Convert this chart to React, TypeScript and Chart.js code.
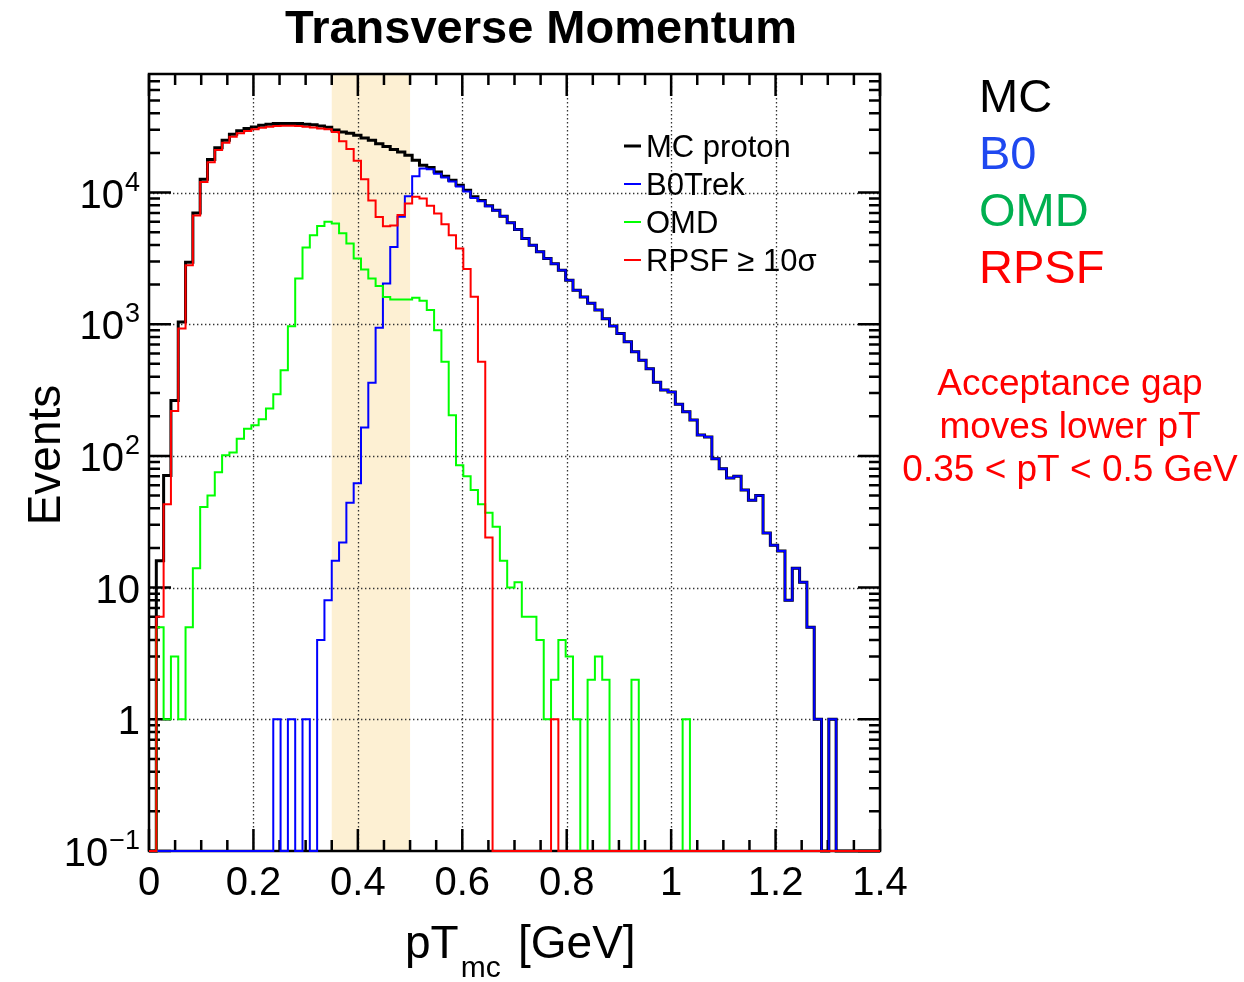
import React, { useEffect, useRef } from 'react';
import { Chart, registerables } from 'chart.js';

Chart.register(...registerables);

// Histogram binning (100 bins over 0 - 1.4 GeV)
const X_MIN = 0;
const X_MAX = 1.4;
const N_BINS = 100;
const Y_MIN = 0.1;
const Y_MAX = Math.pow(10, 4.9);

// Bin contents
const mcProton = [
  0, 16, 71, 263, 1040, 2950, 7000, 12600, 17800, 21900,
  24900, 27700, 29400, 30600, 31500, 32400, 33000, 33400, 33500, 33500,
  33400, 33000, 32700, 32000, 31300, 29800, 28800, 28200, 27200, 26000,
  24900, 23500, 22400, 21200, 20300, 19200, 17600, 16100, 15500, 14300,
  13300, 12400, 11350, 10400, 9270, 8710, 7940, 7350, 6600, 5900,
  5250, 4470, 3980, 3550, 3160, 2880, 2570, 2160, 1810, 1610,
  1440, 1280, 1100, 970, 850, 735, 617, 533, 460, 363,
  316, 306, 247, 216, 187, 144, 139, 95, 80, 68,
  70, 55, 46, 50, 26, 21, 19, 8, 14, 11,
  5, 1, 0, 1, 0, 0, 0, 0, 0, 0,
];

const b0Trek = [
  0, 0, 0, 0, 0, 0, 0, 0, 0, 0,
  0, 0, 0, 0, 0, 0, 0, 1, 0, 1,
  0, 1, 0, 4, 8, 16, 22, 44, 62, 164,
  360, 940, 2040, 3860, 6540, 9370, 13300, 15200, 15000, 13900,
  13000, 12100, 11100, 10200, 9100, 8600, 7850, 7300, 6600, 5900,
  5250, 4470, 3980, 3550, 3160, 2880, 2570, 2160, 1810, 1610,
  1440, 1280, 1100, 970, 850, 735, 617, 533, 460, 363,
  316, 306, 247, 216, 187, 144, 139, 95, 80, 68,
  70, 55, 46, 50, 26, 21, 19, 8, 14, 11,
  5, 1, 0, 1, 0, 0, 0, 0, 0, 0,
];

const omd = [
  0, 5, 1, 3, 1, 5, 14, 41, 50, 75,
  101, 106, 135, 161, 171, 190, 229, 294, 447, 966,
  2220, 3820, 4740, 5560, 5990, 5820, 4900, 4100, 3160, 2600,
  2220, 1950, 1610, 1540, 1540, 1540, 1590, 1510, 1280, 900,
  518, 204, 85, 70, 55, 43, 37, 29, 16, 10,
  11, 6, 6, 4, 1, 2, 4, 3, 1, 0,
  2, 3, 2, 0, 0, 0, 2, 0, 0, 0,
  0, 0, 0, 1, 0, 0, 0, 0, 0, 0,
  0, 0, 0, 0, 0, 0, 0, 0, 0, 0,
  0, 0, 0, 0, 0, 0, 0, 0, 0, 0,
];

const rpsf = [
  0, 6, 43, 219, 927, 2800, 6700, 12000, 17000, 21000,
  23900, 26500, 28200, 29300, 30200, 31000, 31600, 32000, 32100, 32100,
  32000, 31600, 31200, 30600, 30200, 28800, 24500, 21400, 17400, 12600,
  8700, 6530, 5550, 5620, 6760, 8260, 9270, 9000, 7940, 6920,
  5750, 4740, 3760, 2630, 1620, 518, 24, 0, 0, 0,
  0, 0, 0, 0, 0, 1, 0, 0, 0, 0,
  0, 0, 0, 0, 0, 0, 0, 0, 0, 0,
  0, 0, 0, 0, 0, 0, 0, 0, 0, 0,
  0, 0, 0, 0, 0, 0, 0, 0, 0, 0,
  0, 0, 0, 0, 0, 0, 0, 0, 0, 0,
];

// Axis ticks and labels
const xTickValues = [0, 0.2, 0.4, 0.6, 0.8, 1, 1.2, 1.4];
const xTickLabels = ['0', '0.2', '0.4', '0.6', '0.8', '1', '1.2', '1.4'];
const yDecades = [-1, 0, 1, 2, 3, 4];

// Shaded acceptance-gap region
const gapRange = [0.35, 0.5];

const seriesNames = ['MC proton', 'B0Trek', 'OMD', 'RPSF \u2265 10\u03c3'];
const seriesColors = ['#000000', '#0000ff', '#00ff00', '#ff0000'];
const seriesWidths = [3, 2, 2, 2];

const sideLabels = ['MC', 'B0', 'OMD', 'RPSF'];
const sideColors = ['#000000', '#1f48f0', '#00b050', '#ff0000'];
const noteLines = ['Acceptance gap', 'moves lower pT', '0.35 < pT < 0.5 GeV'];

const FONT = '"Liberation Sans", Arial, Helvetica, sans-serif';

// Turn bin contents into step points at bin low edges (zero bins sit on the axis floor)
function histPoints(values: number[]) {
  const w = (X_MAX - X_MIN) / N_BINS;
  const pts = values.map((v, i) => ({ x: X_MIN + i * w, y: v > 0 ? v : Y_MIN }));
  const last = values[values.length - 1];
  pts.push({ x: X_MAX, y: last > 0 ? last : Y_MIN });
  return pts;
}

const framePlugin = {
  id: 'rootFrame',
  beforeDatasetsDraw(chart: any) {
    const { ctx, chartArea: a, scales } = chart;
    const xs = scales.x;
    const ys = scales.y;
    ctx.save();

    // acceptance gap band
    const bx0 = xs.getPixelForValue(gapRange[0]);
    const bx1 = xs.getPixelForValue(gapRange[1]);
    ctx.fillStyle = '#fdf0d3';
    ctx.fillRect(bx0, a.top, bx1 - bx0, a.bottom - a.top);

    // dotted grid
    ctx.strokeStyle = '#333333';
    ctx.lineWidth = 1.3;
    ctx.setLineDash([1.4, 2.6]);
    xTickValues.forEach((v) => {
      if (v <= X_MIN || v >= X_MAX) return;
      const px = Math.round(xs.getPixelForValue(v)) + 0.5;
      ctx.beginPath();
      ctx.moveTo(px, a.top);
      ctx.lineTo(px, a.bottom);
      ctx.stroke();
    });
    yDecades.forEach((d) => {
      const v = Math.pow(10, d);
      if (v <= Y_MIN || v >= Y_MAX) return;
      const py = Math.round(ys.getPixelForValue(v)) + 0.5;
      ctx.beginPath();
      ctx.moveTo(a.left, py);
      ctx.lineTo(a.right, py);
      ctx.stroke();
    });
    ctx.setLineDash([]);

    // frame
    ctx.strokeStyle = '#000';
    ctx.lineWidth = 2.5;
    ctx.strokeRect(a.left, a.top, a.right - a.left, a.bottom - a.top);

    // ticks on all four sides
    const major = 22;
    const minor = 11;
    ctx.lineWidth = 2.5;
    ctx.beginPath();
    for (let k = 0; k <= 28; k++) {
      const v = k * 0.05;
      const len = k % 4 === 0 ? major : minor;
      const px = xs.getPixelForValue(v);
      ctx.moveTo(px, a.bottom);
      ctx.lineTo(px, a.bottom - len);
      ctx.moveTo(px, a.top);
      ctx.lineTo(px, a.top + len);
    }
    yDecades.forEach((d) => {
      for (let m = 1; m <= 9; m++) {
        const v = m * Math.pow(10, d);
        if (v > Y_MAX) break;
        const len = m === 1 ? major : minor;
        const py = ys.getPixelForValue(v);
        ctx.moveTo(a.left, py);
        ctx.lineTo(a.left + len, py);
        ctx.moveTo(a.right, py);
        ctx.lineTo(a.right - len, py);
      }
    });
    ctx.stroke();
    ctx.restore();
  },
};

function drawPower(ctx: CanvasRenderingContext2D, base: string, exp: string, right: number, baseline: number) {
  ctx.textAlign = 'left';
  ctx.font = `27px ${FONT}`;
  const ew = exp ? ctx.measureText(exp).width : 0;
  ctx.font = `40px ${FONT}`;
  const bw = ctx.measureText(base).width;
  const start = right - ew - bw - (exp ? 1 : 0);
  ctx.fillText(base, start, baseline);
  if (exp) {
    ctx.font = `27px ${FONT}`;
    ctx.fillText(exp, start + bw + 1, baseline - 17);
  }
}

const textPlugin = {
  id: 'rootText',
  afterDraw(chart: any) {
    const { ctx, chartArea: a, scales } = chart;
    const xs = scales.x;
    const ys = scales.y;
    ctx.save();
    ctx.fillStyle = '#000';
    ctx.textBaseline = 'alphabetic';

    // title
    ctx.font = `bold 47px ${FONT}`;
    ctx.textAlign = 'center';
    ctx.fillText('Transverse Momentum', 541, 43);

    // x tick labels
    ctx.font = `40px ${FONT}`;
    xTickValues.forEach((v, i) => {
      ctx.textAlign = 'center';
      ctx.fillText(xTickLabels[i], xs.getPixelForValue(v), a.bottom + 44);
    });

    // y tick labels
    yDecades.forEach((d) => {
      const py = ys.getPixelForValue(Math.pow(10, d));
      const right = a.left - 9;
      const baseline = py + 15;
      if (d === 0) drawPower(ctx, '1', '', right, baseline);
      else if (d === 1) drawPower(ctx, '10', '', right, baseline);
      else drawPower(ctx, '10', d < 0 ? '\u2212' + String(-d) : String(d), right, baseline);
    });

    // axis titles
    ctx.font = `46px ${FONT}`;
    ctx.textAlign = 'left';
    const xt0 = 405;
    ctx.fillText('pT', xt0, 958);
    const pw = ctx.measureText('pT').width;
    ctx.font = `30px ${FONT}`;
    ctx.fillText('mc', xt0 + pw + 2, 977);
    ctx.font = `46px ${FONT}`;
    ctx.fillText('[GeV]', 518, 958);

    ctx.save();
    ctx.translate(60, 455);
    ctx.rotate(-Math.PI / 2);
    ctx.textAlign = 'center';
    ctx.fillText('Events', 0, 0);
    ctx.restore();

    // legend
    const legendY = [146, 184, 222, 260];
    seriesNames.forEach((name, i) => {
      const cy = legendY[i];
      ctx.strokeStyle = seriesColors[i];
      ctx.lineWidth = seriesWidths[i];
      ctx.beginPath();
      ctx.moveTo(624, cy);
      ctx.lineTo(641, cy);
      ctx.stroke();
      ctx.fillStyle = '#000';
      ctx.font = `31px ${FONT}`;
      ctx.textAlign = 'left';
      ctx.fillText(name, 646, cy + 11);
    });

    // side labels
    const sideY = [112, 169, 226, 283];
    sideLabels.forEach((s, i) => {
      ctx.fillStyle = sideColors[i];
      ctx.font = `47px ${FONT}`;
      ctx.textAlign = 'left';
      ctx.fillText(s, 979, sideY[i]);
    });

    // note
    ctx.fillStyle = '#ff0000';
    ctx.font = `37px ${FONT}`;
    ctx.textAlign = 'center';
    const noteY = [395, 438, 481];
    noteLines.forEach((t, i) => ctx.fillText(t, 1070, noteY[i]));

    ctx.restore();
  },
};

export default function App() {
  const ref = useRef<HTMLCanvasElement | null>(null);

  useEffect(() => {
    if (!ref.current) return;
    const series = [mcProton, b0Trek, omd, rpsf];
    const drawOrder = [3, 2, 1, 0];
    const chart = new Chart(ref.current, {
      type: 'line',
      data: {
        datasets: series.map((vals, i) => ({
          label: seriesNames[i],
          data: histPoints(vals),
          borderColor: seriesColors[i],
          borderWidth: seriesWidths[i],
          backgroundColor: 'transparent',
          fill: false,
          stepped: 'before' as const,
          pointRadius: 0,
          borderJoinStyle: 'miter' as const,
          borderCapStyle: 'butt' as const,
          clip: false as any,
          order: drawOrder[i],
        })),
      },
      options: {
        animation: false,
        responsive: false,
        devicePixelRatio: 1,
        parsing: false,
        normalized: true,
        layout: { padding: { left: 149, right: 364, top: 74, bottom: 131 } },
        scales: {
          x: { type: 'linear', min: X_MIN, max: X_MAX, display: false },
          y: { type: 'logarithmic', min: Y_MIN, max: Y_MAX, display: false },
        },
        plugins: {
          legend: { display: false },
          tooltip: { enabled: false },
          title: { display: false },
        },
        events: [],
      },
      plugins: [framePlugin, textPlugin],
    });
    return () => chart.destroy();
  }, []);

  return (
    <div style={{ position: 'absolute', left: 0, top: 0, width: 1244, height: 982, background: '#fff' }}>
      <canvas ref={ref} width={1244} height={982} style={{ display: 'block' }} />
    </div>
  );
}
